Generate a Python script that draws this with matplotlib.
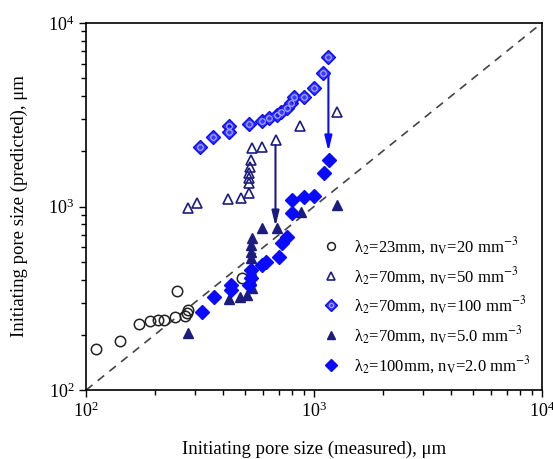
import matplotlib
matplotlib.use("Agg")
import matplotlib.pyplot as plt
from matplotlib.legend_handler import HandlerTuple

plt.rcParams['font.family'] = ['Liberation Serif', 'DejaVu Serif']
plt.rcParams['mathtext.fontset'] = 'stix'

# --- data (µm) ---
circ_x = [111, 141, 171, 191, 206, 219, 245, 271, 276, 279, 250, 485]
circ_y = [167, 185, 229, 238, 240, 240, 250, 253, 262, 273, 347, 406]

otri_x = [279, 308, 421, 477, 517, 517, 517, 520, 525, 530, 537, 593, 684, 865, 1262]
otri_y = [981, 1049, 1099, 1117, 1186, 1343, 1429, 1525, 1641, 1792, 2075, 2118, 2300, 2750, 3288]

hdia_x = [316, 361, 424, 424, 519, 593, 634, 690, 714, 763, 789, 816, 902, 998, 1091, 1152]
hdia_y = [2118, 2383, 2750, 2555, 2818, 2940, 3027, 3158, 3290, 3430, 3650, 3966, 3966, 4400, 5354, 6550]

ftri_x = [685, 589, 537, 527, 527, 527, 527, 527, 537, 510, 476, 424, 279, 874, 1262]
ftri_y = [760, 760, 671, 617, 567, 524, 451, 397, 358, 329, 320, 312, 204, 937, 1018]

fdia_x = [1161, 1105, 803, 902, 998, 803, 763, 726, 702, 613, 593, 527, 527, 519, 431, 431, 365, 324]
fdia_y = [1792, 1517, 1084, 1130, 1140, 918, 684, 630, 532, 500, 480, 451, 406, 373, 373, 351, 320, 267]

arrow1 = ((678, 2163), (678, 780))
arrow2 = ((1157, 5410), (1157, 2000))

labels = ['λ$_2$=23mm, n$_\\mathrm{V}$=20 mm$^{-3}$',
          'λ$_2$=70mm, n$_\\mathrm{V}$=50 mm$^{-3}$',
          'λ$_2$=70mm, n$_\\mathrm{V}$=100 mm$^{-3}$',
          'λ$_2$=70mm, n$_\\mathrm{V}$=5.0 mm$^{-3}$',
          'λ$_2$=100mm, n$_\\mathrm{V}$=2.0 mm$^{-3}$']

NAVY = '#1c1c80'
BLUE = '#0a0aff'

fig = plt.figure(figsize=(5.53, 4.59), dpi=100)
ax = fig.add_axes([0.1555, 0.150, 0.8245, 0.800])
ax.set_xscale('log')
ax.set_yscale('log')
ax.set_xlim(100, 10000)
ax.set_ylim(100, 10000)

ax.plot([100, 10000], [100, 10000], ls=(0, (5, 4)), color='#444444', lw=1.2, zorder=1)

h1, = ax.plot(circ_x, circ_y, 'o', ms=7.5, mfc='none', mec='#222222', mew=1.1, ls='none', zorder=3)
h2, = ax.plot(otri_x, otri_y, '^', ms=7.5, mfc='none', mec=NAVY, mew=1.2, ls='none', zorder=3)
h3a, = ax.plot(hdia_x, hdia_y, 'D', ms=7.5, mfc='#3a3aff', mec=BLUE, mew=1.0, ls='none', zorder=3)
h3b, = ax.plot(hdia_x, hdia_y, 'o', ms=4.0, mfc='none', mec='#b0b0ff', mew=0.8, ls='none', zorder=4)
h4, = ax.plot(ftri_x, ftri_y, '^', ms=7.5, mfc=NAVY, mec=NAVY, ls='none', zorder=3)
h5, = ax.plot(fdia_x, fdia_y, 'D', ms=7.5, mfc=BLUE, mec=BLUE, ls='none', zorder=3)

for (p0, p1), col in [(arrow1, NAVY), (arrow2, BLUE)]:
    ax.annotate('', xy=p1, xytext=p0,
                arrowprops=dict(arrowstyle='-|>,head_length=0.9,head_width=0.22',
                                color=col, lw=1.5, shrinkA=0, shrinkB=0), zorder=2)

leg = ax.legend([h1, h2, (h3a, h3b), h4, h5], labels,
                handler_map={tuple: HandlerTuple(ndivide=1, pad=0)},
                loc='upper left', bbox_to_anchor=(0.505, 0.44), frameon=False,
                fontsize=12, handlelength=1.0, handletextpad=0.85, labelspacing=0.47,
                markerscale=0.75, borderaxespad=0)

ax.tick_params(which='both', direction='out', top=False, right=False, labelsize=13)
ax.tick_params(which='major', length=5, width=1)
ax.tick_params(which='minor', length=3.5, width=1)
for s in ax.spines.values():
    s.set_linewidth(1.2)

ax.set_xlabel('Initiating pore size (measured), μm', fontsize=13.5, labelpad=14)
ax.set_ylabel('Initiating pore size (predicted), μm', fontsize=13.5, labelpad=14)

fig.savefig('out.png', dpi=100)
